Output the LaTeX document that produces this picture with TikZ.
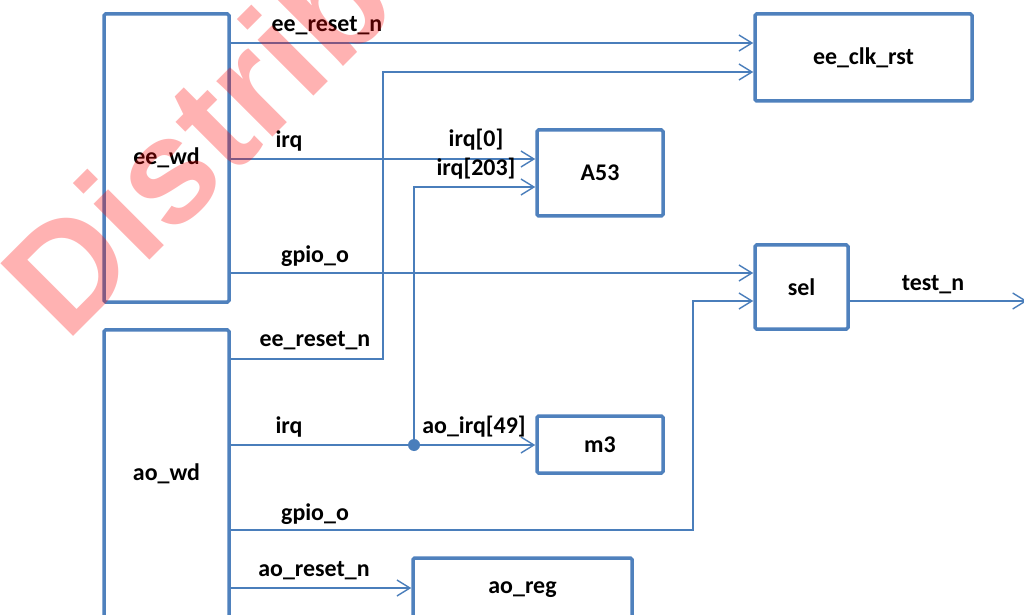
\documentclass[tikz,border=0pt]{standalone}
\usepackage{fontspec}
\setmainfont{Carlito}
\newfontfamily\wmfont{Liberation Sans}
\usetikzlibrary{arrows.meta}
\definecolor{boxblue}{RGB}{79,129,189}
\definecolor{wireblue}{RGB}{74,126,187}
\begin{document}
\begin{tikzpicture}[x=1bp,y=-1bp,
  box/.style={draw=boxblue, line width=3.5bp, rounded corners=1.5bp, inner sep=0pt,
    font=\bfseries\fontsize{24}{28}\selectfont},
  wire/.style={draw=wireblue, line width=1.4bp,
    -{Straight Barb[length=13bp,width=16bp,line width=1.4bp]}},
  plain/.style={draw=wireblue, line width=1.4bp},
  lbl/.style={font=\bfseries\fontsize{24}{28}\selectfont, inner sep=0pt},
  dotmark/.style={fill=wireblue}]
\useasboundingbox (0,0) rectangle (1024,615);
\fill[white] (0,0) rectangle (1024,615);
\clip (0,0) rectangle (1024,615);

% boxes
\node[box, minimum width=125bp, minimum height=288bp] (eewd) at (166.5,158) {ee\_wd};
\node[box, minimum width=125bp, minimum height=288bp] (aowd) at (166.5,474) {ao\_wd};
\node[box, minimum width=217bp, minimum height=87bp] (eeclk) at (863.5,57.5) {ee\_clk\_rst};
\node[box, minimum width=126bp, minimum height=86bp] (a53) at (600,173) {A53};
\node[box, minimum width=93bp, minimum height=84bp] (sel) at (801.5,287) {sel};
\node[box, minimum width=126bp, minimum height=57bp] (m3) at (600,444.5) {m3};
\node[box, minimum width=219bp, minimum height=64bp] (aoreg) at (522.5,590) {ao\_reg};

% wires
\draw[wire] (eewd.east |- 0,43) -- (eeclk.west |- 0,43);
\coordinate (b1) at (383,359);
\draw[wire] (aowd.east |- b1) -- (b1) |- (eeclk.west |- 0,72);
\draw[wire] (eewd.east |- 0,159) -- (a53.west |- 0,159);
\coordinate (j) at (414,445);
\draw[plain] (aowd.east |- j) -- (j);
\draw[wire] (j) -- (m3.west |- j);
\draw[wire] (j) |- (a53.west |- 0,187);
\fill[dotmark] (j) circle (6bp);
\draw[wire] (eewd.east |- 0,273) -- (sel.west |- 0,273);
\coordinate (b2) at (693,530);
\draw[wire] (aowd.east |- b2) -- (b2) |- (sel.west |- 0,301);
\coordinate (out) at (1027,301);
\draw[wire] (sel.east |- out) -- (out);
\draw[wire] (aowd.east |- 0,588) -- (aoreg.west |- 0,588);

% labels
\node[lbl] (t1) at (327,26) {ee\_reset\_n};
\node[lbl] (t2) at (289,141) {irq};
\node[lbl] (t3) at (476,140) {irq[0]};
\node[lbl] (t4) at (476,169) {irq[203]};
\node[lbl] (t5) at (315,256) {gpio\_o};
\node[lbl] (t6) at (933,285) {test\_n};
\node[lbl] (t7) at (315,341) {ee\_reset\_n};
\node[lbl] (t8) at (289,427) {irq};
\node[lbl] (t9) at (474,427) {ao\_irq[49]};
\node[lbl] (t10) at (315,514) {gpio\_o};
\node[lbl] (t11) at (314,571) {ao\_reset\_n};

% watermark
\node[font=\wmfont\bfseries\fontsize{150}{150}\selectfont, text=red, text opacity=0.3,
  rotate=45, anchor=base west, inner sep=0pt] (wm) at (66,344) {Distribution};
\end{tikzpicture}
\end{document}
